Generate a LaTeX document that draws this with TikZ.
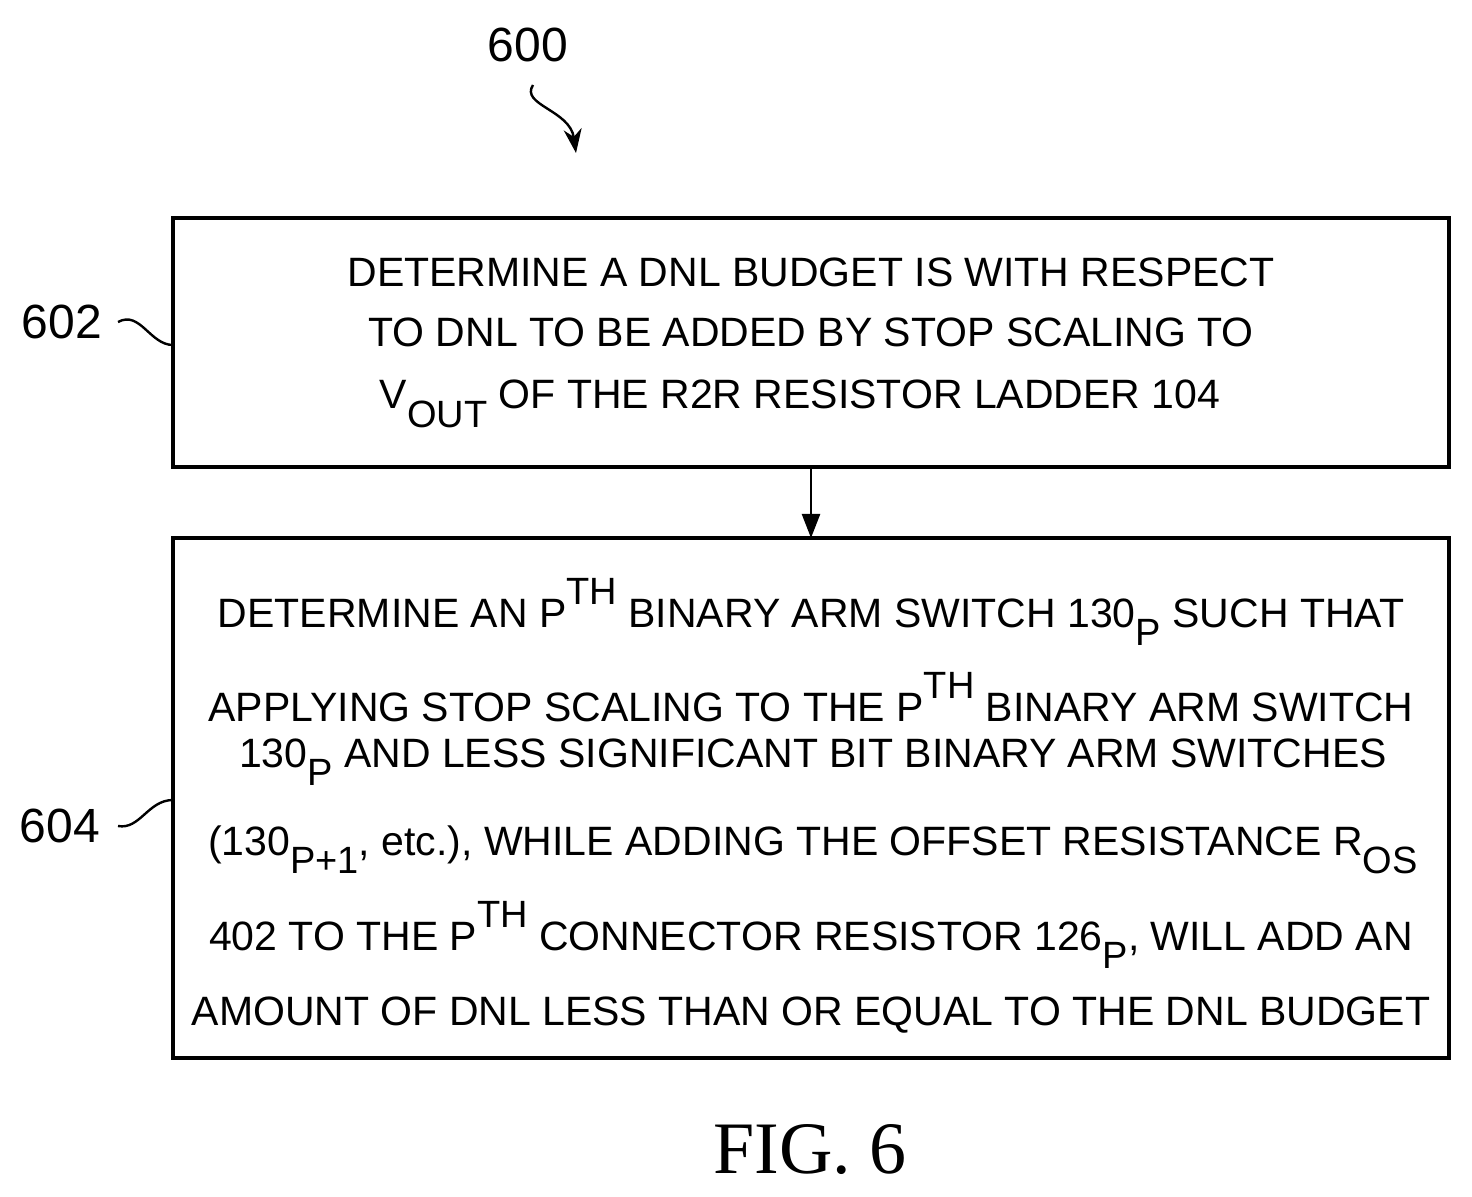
\documentclass[tikz,border=0pt]{standalone}
\usepackage{fontspec}
\setmainfont{Liberation Sans}
\newfontfamily\serif{Liberation Serif}
\usetikzlibrary{arrows.meta}
\newcommand\dn[1]{\raisebox{-0.45em}{\fontsize{19}{19}\selectfont #1}}
\newcommand\up[1]{\raisebox{0.55em}{\fontsize{19}{19}\selectfont #1}}
\begin{document}
\begin{tikzpicture}[x=0.5pt,y=-0.5pt,
 box/.style={draw,line width=1.6pt},
 txt/.style={font=\fontsize{20.5}{24}\selectfont,inner sep=0},
 lab/.style={font=\fontsize{24}{24}\selectfont,inner sep=0},
 wire/.style={line width=1.2pt}]
\useasboundingbox (0,0) rectangle (1472,1197);
\draw[box] (173,218) rectangle (1449,467);
\draw[box] (173,538) rectangle (1449,1058);
\coordinate (a1) at (811,467); \coordinate (a2) at (811,538);
\draw[wire,-{Triangle[length=12pt,width=9pt]}] (a1) -- (a2);
\node[txt] (l1) at (811,272) {DETERMINE A DNL BUDGET IS WITH RESPECT};
\node[txt] (l2) at (811,332) {TO DNL TO BE ADDED BY STOP SCALING TO};
\node[txt] (l3) at (800,404) {V\dn{OUT} OF THE R2R RESISTOR LADDER 104};
\node[txt] (m1) at (811,612) {DETERMINE AN P\up{TH} BINARY ARM SWITCH 130\dn{P} SUCH THAT};
\node[txt] (m2) at (811,697) {APPLYING STOP SCALING TO THE P\up{TH} BINARY ARM SWITCH};
\node[txt] (m3) at (813,762) {130\dn{P} AND LESS SIGNIFICANT BIT BINARY ARM SWITCHES};
\node[txt] (m4) at (813,850) {(130\dn{P+1}, etc.), WHILE ADDING THE OFFSET RESISTANCE R\dn{OS}};
\node[txt] (m5) at (811,935) {402 TO THE P\up{TH} CONNECTOR RESISTOR 126\dn{P}, WILL ADD AN};
\node[txt] (m6) at (811,1015) {AMOUNT OF DNL LESS THAN OR EQUAL TO THE DNL BUDGET};
\node[lab] (n600) at (528,45) {600};
\node[lab] (n602) at (62,322) {602};
\node[lab] (n604) at (60,826) {604};
\node[font=\serif\fontsize{37}{37}\selectfont,inner sep=0] (fig) at (810,1150) {FIG. 6};
\coordinate (s1) at (118,322); \coordinate (s2) at (173,345);
\draw[wire] (s1) .. controls (140,310) and (150,345) .. (s2);
\coordinate (t1) at (118,826); \coordinate (t2) at (173,800);
\draw[wire] (t1) .. controls (140,830) and (148,800) .. (t2);
\coordinate (u1) at (533,85); \coordinate (u2) at (576,153);
\draw[wire,-{Stealth[length=12pt,width=9pt]}] (u1) .. controls (520,105) and (570,110) .. (u2);
\end{tikzpicture}
\end{document}
